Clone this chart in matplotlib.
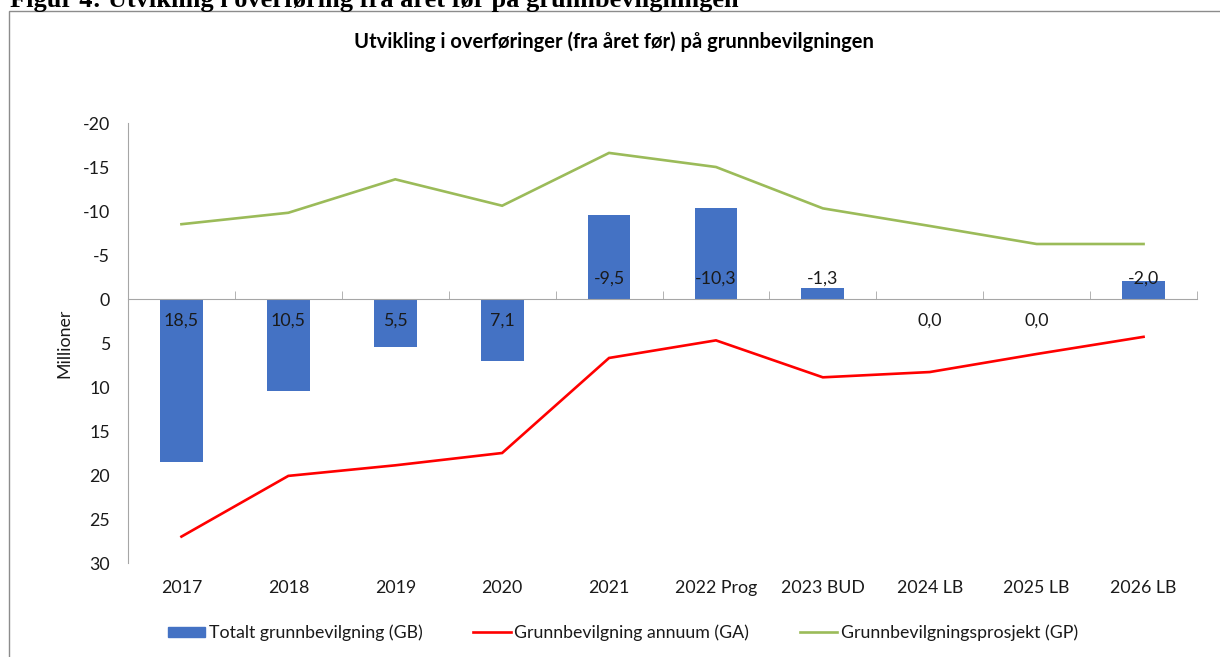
import matplotlib
matplotlib.use("Agg")
import matplotlib.pyplot as plt
from matplotlib.patches import Rectangle, Patch
from matplotlib.lines import Line2D
import numpy as np

plt.rcParams['font.family'] = ['Lato', 'DejaVu Sans']
plt.rcParams['axes.unicode_minus'] = False

categories = ["2017", "2018", "2019", "2020", "2021", "2022 Prog",
              "2023 BUD", "2024 LB", "2025 LB", "2026 LB"]
gb_total = [18.5, 10.5, 5.5, 7.1, -9.5, -10.3, -1.3, 0.0, 0.0, -2.0]
ga_annuum = [27.0, 20.1, 18.9, 17.5, 6.7, 4.7, 8.9, 8.3, 6.25, 4.3]
gp_prosjekt = [-8.5, -9.8, -13.6, -10.6, -16.6, -15.0, -10.3, -8.3, -6.25, -6.25]
y_ticks = [-20, -15, -10, -5, 0, 5, 10, 15, 20, 25, 30]

caption = "Figur 4: Utvikling i overføring fra året før på grunnbevilgningen"
title = "Utvikling i overføringer (fra året før) på grunnbevilgningen"
legend_labels = ["Totalt grunnbevilgning (GB)", "Grunnbevilgning annuum (GA)",
                 "Grunnbevilgningsprosjekt (GP)"]

BLUE = "#4472C4"
RED = "#FF0000"
GREEN = "#9BBB59"
AXC = "#A6A6A6"
TXT = "#1A1A1A"
FS = 12.8

W, H = 1220, 657
fig = plt.figure(figsize=(W / 100, H / 100), dpi=100)

# document caption (clipped at the top, as in the reference) and chart frame
fig.text(10 / W, 1 - 7 / H, caption, fontfamily=['Liberation Serif', 'DejaVu Serif'],
         fontweight='bold', fontsize=19, ha='left', va='baseline', color='black')
fig.add_artist(Rectangle((9 / W, -0.05), 1.2, (H - 11) / H + 0.05,
                         transform=fig.transFigure, fill=False,
                         edgecolor='#8C8C8C', linewidth=1.0))
fig.text(614 / W, 1 - 42 / H, title, fontsize=14.5, fontweight='bold',
         ha='center', va='center', color='black')

ax = fig.add_axes([128 / W, 1 - 563 / H, (1197 - 128) / W, (563 - 123) / H])
x = np.arange(len(categories))

ax.bar(x, gb_total, width=0.40, color=BLUE, zorder=2)
ax.plot(x, ga_annuum, color=RED, lw=1.9, zorder=3, solid_joinstyle='miter')
ax.plot(x, gp_prosjekt, color=GREEN, lw=1.9, zorder=3, solid_joinstyle='miter')

for xi, v in zip(x, gb_total):
    lab = f"{v:.1f}".replace('.', ',')
    off = -22 if v >= 0 else 20
    ax.annotate(lab, xy=(xi, 0), xytext=(0, off), textcoords='offset pixels',
                ha='center', va='center', fontsize=FS, color=TXT, zorder=4)

ax.set_xlim(-0.5, len(categories) - 0.5)
ax.set_ylim(30, -20)
ax.set_yticks(y_ticks)
ax.set_yticklabels([str(t) for t in y_ticks])
ax.tick_params(axis='y', length=0, pad=13, labelsize=FS, labelcolor=TXT)

for s in ['top', 'right']:
    ax.spines[s].set_visible(False)
ax.spines['left'].set_color(AXC)
ax.spines['bottom'].set_color(AXC)
ax.spines['bottom'].set_position(('data', 0))
ax.spines['left'].set_zorder(1)

ax.set_xticks(x)
ax.set_xticklabels([])
ax.tick_params(axis='x', which='major', length=0)
ax.set_xticks(np.arange(-0.5, len(categories)), minor=True)
ax.tick_params(axis='x', which='minor', direction='in', length=6, color=AXC)

for xi, c in zip(x, categories):
    ax.text(xi, -0.057, c, transform=ax.get_xaxis_transform(), ha='center',
            va='center', fontsize=FS, color=TXT)

ax.set_ylabel("Millioner", fontsize=FS, color=TXT, labelpad=7)

handles = [Patch(facecolor=BLUE, edgecolor=BLUE),
           Line2D([0], [0], color=RED, lw=1.9),
           Line2D([0], [0], color=GREEN, lw=1.9)]
leg = fig.legend(handles, legend_labels, loc='center', ncol=3,
                 bbox_to_anchor=(623 / W, 1 - 633 / H), frameon=False,
                 fontsize=FS, handlelength=2.1, handleheight=0.55,
                 handletextpad=0.2, columnspacing=2.85)
for t in leg.get_texts():
    t.set_color(TXT)

fig.savefig("out.png", dpi=100)
